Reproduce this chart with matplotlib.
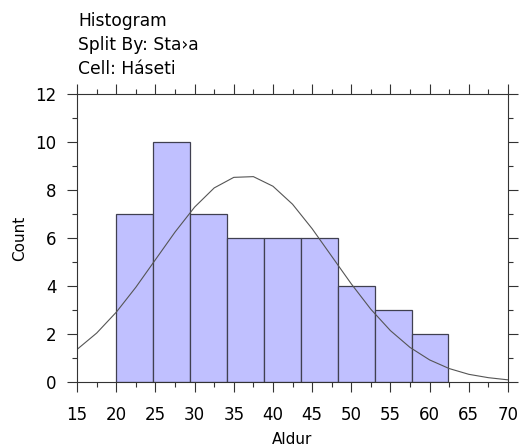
import numpy as np
import matplotlib
matplotlib.use("Agg")
from matplotlib import pyplot as plt
from matplotlib.ticker import MultipleLocator

# histogram of Aldur, 9 bins starting at 20
bin_edges = [20.0, 24.71, 29.42, 34.13, 38.84, 43.56, 48.27, 52.98, 57.69, 62.4]
counts = [7, 10, 7, 6, 6, 6, 4, 3, 2]

curve_x = [15, 17.5, 20, 22.5, 25, 27.5, 30, 32.5, 35, 37.5, 40, 42.5,
           45, 47.5, 50, 52.5, 55, 57.5, 60, 62.5, 65, 67.5, 70]
curve_y = [1.36, 2.04, 2.91, 3.95, 5.10, 6.25, 7.29, 8.09, 8.53, 8.56, 8.16, 7.41,
           6.39, 5.24, 4.09, 3.03, 2.14, 1.44, 0.92, 0.56, 0.32, 0.18, 0.09]

title_lines = ["Histogram", "Split By: Sta\u203aa", "Cell: H\u00e1seti"]

plt.rcParams['font.family'] = ['DejaVu Sans']

fig = plt.figure(figsize=(5.21, 4.46), dpi=100)
ax = fig.add_axes([0.148, 0.1435, 0.827, 0.6455])

lefts = np.array(bin_edges[:-1])
widths = np.diff(bin_edges)
ax.bar(lefts, counts, width=widths, align='edge', color='#c0c0ff',
       edgecolor='#404050', linewidth=0.9)
ax.plot(curve_x, curve_y, color='#555555', linewidth=0.8)

ax.set_xlim(15, 70)
ax.set_ylim(0, 12)
ax.xaxis.set_major_locator(MultipleLocator(5))
ax.xaxis.set_minor_locator(MultipleLocator(2.5))
ax.yaxis.set_major_locator(MultipleLocator(2))
ax.yaxis.set_minor_locator(MultipleLocator(1))
ax.tick_params(which='both', direction='out', top=True, right=True,
               labeltop=False, labelright=False, color='#333333', width=0.8,
               labelsize=12)
ax.tick_params(which='major', length=7, pad=8)
ax.tick_params(axis='x', which='major', pad=10)
ax.tick_params(which='minor', length=3.5)
for s in ax.spines.values():
    s.set_linewidth(0.8)
    s.set_color('#333333')

ax.set_xlabel("Aldur", fontsize=11, labelpad=6)
ax.set_ylabel("Count", fontsize=11, labelpad=6)

for i, line in enumerate(title_lines):
    fig.text(0.15, 0.953 - i * 0.054, line, fontsize=12.3, ha='left', va='center')

fig.savefig("out.png", dpi=100)
